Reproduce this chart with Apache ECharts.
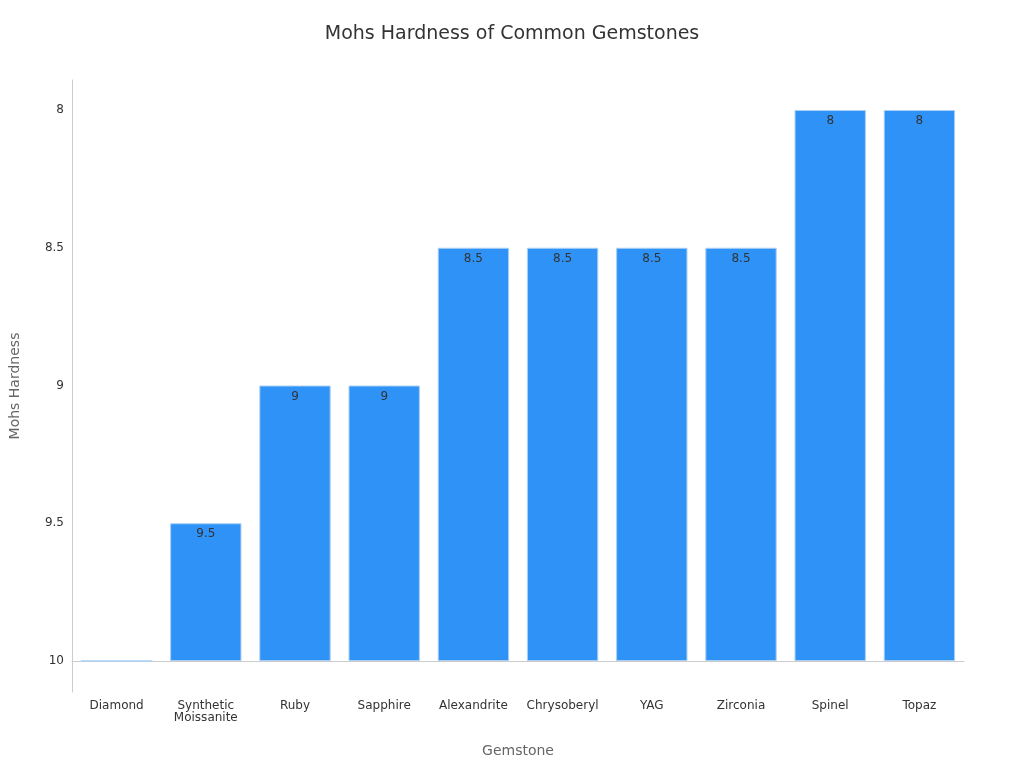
<!DOCTYPE html>
<html><head><meta charset="utf-8">
<script src="https://cdn.jsdelivr.net/npm/echarts@6/dist/echarts.min.js"></script>
<style>html,body{margin:0;padding:0;background:#fff}#c{width:1024px;height:768px}</style>
</head><body><div id="c"></div>
<script>
const gemstones = ["Diamond", "Synthetic\nMoissanite", "Ruby", "Sapphire", "Alexandrite", "Chrysoberyl", "YAG", "Zirconia", "Spinel", "Topaz"];
const hardness = [10, 9.5, 9, 9, 8.5, 8.5, 8.5, 8.5, 8, 8];
const tickValues = [8, 8.5, 9, 9.5, 10];

// axis runs downward from 8 to 10, bars hang from 10: plot distance below 10
const maxHard = 10;
const chart = echarts.init(document.getElementById("c"));
chart.setOption({
  title: { text: "Mohs Hardness of Common Gemstones", left: "center", top: 20,
    textStyle: { fontFamily: "DejaVu Sans", fontSize: 19, fontWeight: "normal", color: "#333" } },
  grid: { left: 65, right: 60, top: 80, bottom: 76 },
  xAxis: {
    type: "category", data: gemstones, name: "Gemstone", nameLocation: "middle", nameGap: 52,
    nameTextStyle: { fontFamily: "DejaVu Sans", fontSize: 14, color: "#666" },
    axisLine: { lineStyle: { color: "#ccc" } }, axisTick: { show: false },
    axisLabel: { fontFamily: "DejaVu Sans", fontSize: 12, color: "#333", interval: 0 }
  },
  yAxis: {
    type: "value", min: -0.1125, max: 2.109,
    name: "Mohs Hardness", nameLocation: "middle", nameGap: 50,
    nameTextStyle: { fontFamily: "DejaVu Sans", fontSize: 14, color: "#666" },
    axisLine: { show: true, lineStyle: { color: "#ccc" } }, axisTick: { show: false }, splitLine: { show: false },
    axisLabel: { customValues: tickValues.map(v => maxHard - v), fontFamily: "DejaVu Sans", fontSize: 12, color: "#333",
      formatter: v => String(+(maxHard - v).toFixed(2)) }
  },
  series: [{
    type: "bar", barWidth: "80%",
    data: hardness.map(v => ({ value: maxHard - v, orig: v })),
    itemStyle: { color: "#2f92f7", borderColor: "#a9cff5", borderWidth: 1 },
    label: { show: true, position: "insideTop", color: "#333", fontFamily: "DejaVu Sans", fontSize: 12,
      formatter: p => p.data.value > 0 ? String(p.data.orig) : "" }
  }]
});
</script></body></html>
